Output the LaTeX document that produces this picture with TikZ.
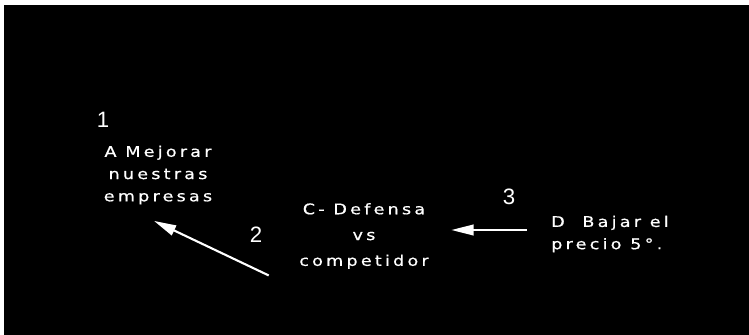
\documentclass[tikz,border=0pt]{standalone}
\usepackage{fontspec}
\usetikzlibrary{arrows.meta}
\newfontfamily\rotulo[LetterSpace=22,FakeStretch=1.2,FakeBold=0.6]{DejaVu Sans}
\newfontfamily\cifra{Liberation Sans}

\tikzset{
  paso/.style={text=white, align=center, inner sep=2pt,
    font=\rotulo\fontsize{12.5}{19}\selectfont},
  numero/.style={text=white, inner sep=0pt, font=\cifra\fontsize{19}{19}\selectfont},
  flecha/.style={draw=white, line width=1.8pt, -{Triangle[length=19pt,width=9pt]}}
}

\begin{document}
\begin{tikzpicture}[x=0.03cm,y=-0.03cm]
      \useasboundingbox (0,0) rectangle (749,335);
      \fill[black] (4,5) rectangle (749,335);
      % the three steps
      \node[paso] (A) at (158,175) {A Mejorar\\nuestras\\empresas};
      \node[paso, font=\rotulo\fontsize{12.5}{22}\selectfont] (C) at (364,236) {C- Defensa\\vs\\competidor};
      \node[paso, align=left] (D) at (610,234) {D\ \ Bajar el\\precio 5°.};
      % numbers
      \node[numero] (n1) at (103,120) {1};
      \node[numero] (n2) at (256,235) {2};
      \node[numero] (n3) at (509,197) {3};
      % arrows
      \draw[flecha] ([shift={(-28,4)}]C.south west) -- ([shift={(-4,14)}]A.south);
      \draw[flecha] ([shift={(-22,-4)}]D.west) -- ([shift={(20,-6)}]C.east);
    \end{tikzpicture}
\end{document}
